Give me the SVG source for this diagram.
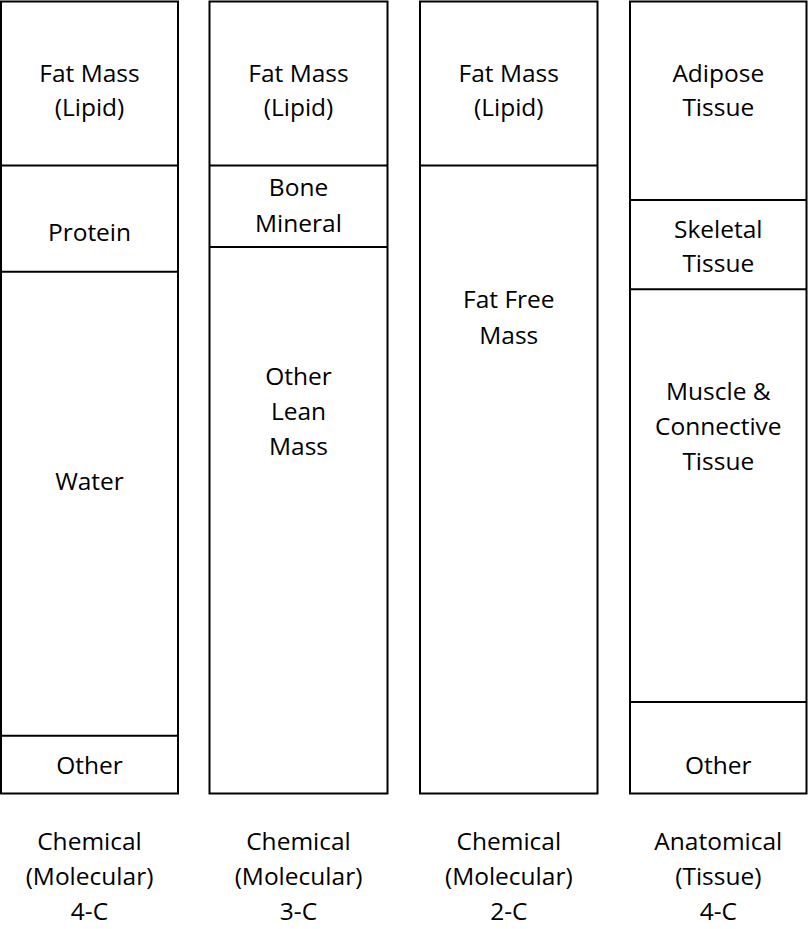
<svg xmlns="http://www.w3.org/2000/svg" width="808" height="929" viewBox="0 0 808 929">
<style>
.box{fill:#fff;stroke:#000;stroke-width:2}
.div{stroke:#000;stroke-width:2;fill:none}
text{font-family:"Open Sans","Noto Sans","Liberation Sans",sans-serif;font-size:24.5px;fill:#000;text-anchor:middle}
</style>
<rect width="808" height="929" fill="#fff"/>
<g id="col1">
<rect class="box" x="1" y="1.5" width="177" height="792"/>
<g id="c1-fat"><text x="89.5" y="82">Fat Mass</text><text x="89.5" y="116">(Lipid)</text></g>
<g id="c1-protein"><text x="89.5" y="241">Protein</text></g>
<g id="c1-water"><text x="89.5" y="490">Water</text></g>
<g id="c1-other"><text x="89.5" y="774">Other</text></g>
</g>
<g id="col2">
<rect class="box" x="209.5" y="1.5" width="178" height="792"/>
<g id="c2-fat"><text x="298.5" y="82">Fat Mass</text><text x="298.5" y="116">(Lipid)</text></g>
<g id="c2-bone"><text x="298.5" y="196">Bone</text><text x="298.5" y="232">Mineral</text></g>
<g id="c2-lean"><text x="298.5" y="385">Other</text><text x="298.5" y="420">Lean</text><text x="298.5" y="455">Mass</text></g>
</g>
<g id="col3">
<rect class="box" x="420" y="1.5" width="177.5" height="792"/>
<g id="c3-fat"><text x="508.8" y="82">Fat Mass</text><text x="508.8" y="116">(Lipid)</text></g>
<g id="c3-ffm"><text x="508.8" y="308">Fat Free</text><text x="508.8" y="344">Mass</text></g>
</g>
<g id="col4">
<rect class="box" x="630" y="1.5" width="176.5" height="792"/>
<g id="c4-adipose"><text x="718.3" y="82">Adipose</text><text x="718.3" y="116">Tissue</text></g>
<g id="c4-skeletal"><text x="718.3" y="238">Skeletal</text><text x="718.3" y="272">Tissue</text></g>
<g id="c4-muscle"><text x="718.3" y="400">Muscle &amp;</text><text x="718.3" y="435">Connective</text><text x="718.3" y="470">Tissue</text></g>
<g id="c4-other"><text x="718.3" y="774">Other</text></g>
</g>
<g id="dividers">
<line class="div" x1="1" y1="165.5" x2="178" y2="165.5"/>
<line class="div" x1="1" y1="271.7" x2="178" y2="271.7"/>
<line class="div" x1="1" y1="735.7" x2="178" y2="735.7"/>
<line class="div" x1="209.5" y1="165.5" x2="387.5" y2="165.5"/>
<line class="div" x1="209.5" y1="247" x2="387.5" y2="247"/>
<line class="div" x1="420" y1="165.5" x2="597.5" y2="165.5"/>
<line class="div" x1="630" y1="200" x2="806.5" y2="200"/>
<line class="div" x1="630" y1="289.3" x2="806.5" y2="289.3"/>
<line class="div" x1="630" y1="702" x2="806.5" y2="702"/>
</g>
<g id="labels">
<g id="lab1"><text x="89.5" y="850">Chemical</text><text x="89.5" y="885">(Molecular)</text><text x="89.5" y="920">4-C</text></g>
<g id="lab2"><text x="298.5" y="850">Chemical</text><text x="298.5" y="885">(Molecular)</text><text x="298.5" y="920">3-C</text></g>
<g id="lab3"><text x="508.8" y="850">Chemical</text><text x="508.8" y="885">(Molecular)</text><text x="508.8" y="920">2-C</text></g>
<g id="lab4"><text x="718.3" y="850">Anatomical</text><text x="718.3" y="885">(Tissue)</text><text x="718.3" y="920">4-C</text></g>
</g>
</svg>
